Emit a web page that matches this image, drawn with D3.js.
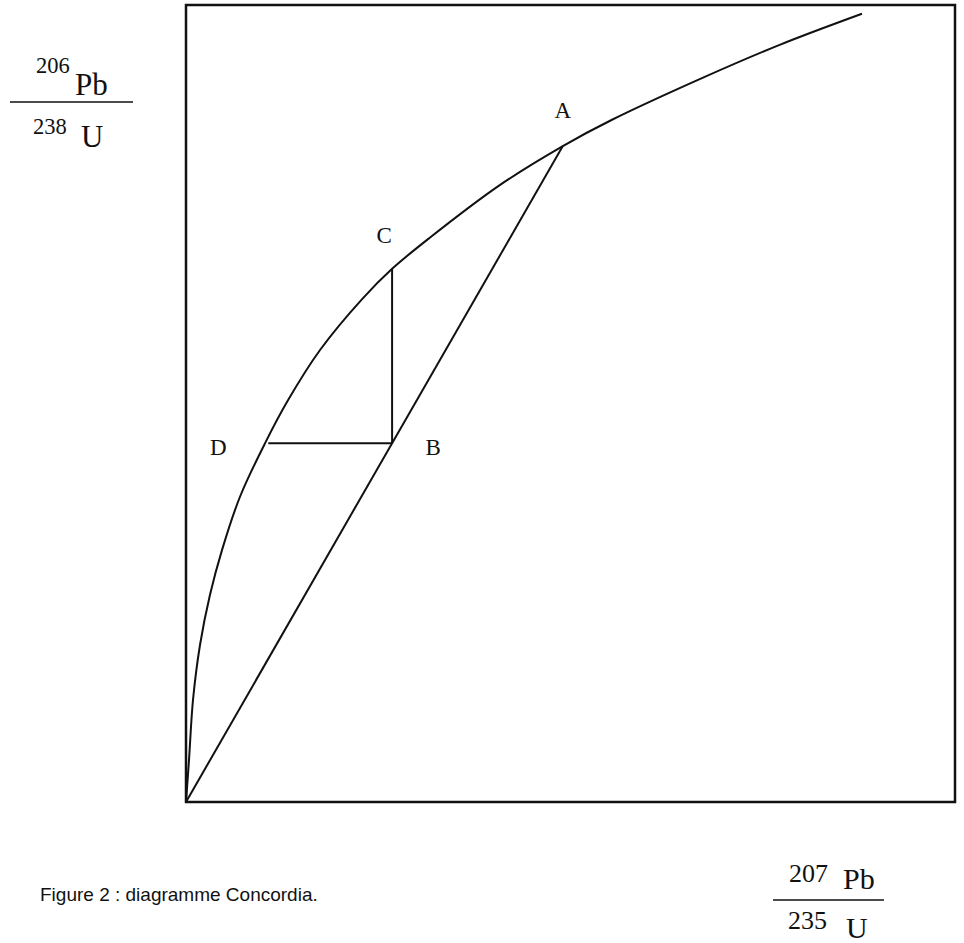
<!DOCTYPE html>
<html>
<head>
<meta charset="utf-8">
<script src="https://cdn.jsdelivr.net/npm/d3@7"></script>
<style>
  body { margin: 0; background: #fff; }
  .serif { font-family: "Liberation Serif", "DejaVu Serif", serif; fill: #111; }
  .caption { font-family: "Liberation Sans", Arial, sans-serif; font-size: 19px; fill: #111; }
</style>
</head>
<body>
<script>
var width = 964,
    height = 943;

/* ============================ DATA ============================ */
// concordia curve (arbitrary units 0-100)
var curveX = [0, 0.39, 0.91, 1.82, 3.12, 4.68, 7.02, 10.27, 13.26, 17.43, 22.9, 26.8, 31.7, 40.8, 49.0, 55.4, 66.8, 77.2, 87.9];
var curveY = [0, 5.27, 12.8, 19.7, 26.0, 31.6, 38.3, 45.0, 50.4, 56.71, 63.1, 66.9, 70.8, 77.4, 82.3, 85.6, 90.7, 95.0, 98.9];

var pointNames = ["A", "B", "C", "D"];
var pointX = [49.0, 26.8, 26.8, 10.7];
var pointY = [82.3, 45.0, 66.9, 45.0];

var caption = "Figure 2 : diagramme Concordia.";

/* ============================ SETUP ============================ */
var svg = d3.select('body').append('svg')
    .attr('width', width)
    .attr('height', height);

var x = d3.scaleLinear().domain([0, 100]).range([186, 955]);
var y = d3.scaleLinear().domain([0, 100]).range([802, 5]);

var pts = {};
pointNames.forEach(function(n, i) { pts[n] = [pointX[i], pointY[i]]; });

// frame
svg.append('rect')
    .attr('x', x(0))
    .attr('y', y(100))
    .attr('width', x(100) - x(0))
    .attr('height', y(0) - y(100))
    .attr('fill', 'none')
    .attr('stroke', '#111')
    .attr('stroke-width', 2.5);

/* ============================ CURVE + LINES ============================ */
var line = d3.line()
    .x(function(d) { return x(d[0]); })
    .y(function(d) { return y(d[1]); });

svg.append('path')
    .datum(d3.zip(curveX, curveY))
    .attr('d', line.curve(d3.curveCatmullRom.alpha(0.5)))
    .attr('fill', 'none')
    .attr('stroke', '#111')
    .attr('stroke-width', 2);

var segs = [
  [[0, 0], pts.A],
  [pts.C, pts.B],
  [pts.D, pts.B]
];

svg.selectAll('.seg')
    .data(segs)
  .enter().append('line')
    .attr('class', 'seg')
    .attr('x1', function(d) { return x(d[0][0]); })
    .attr('y1', function(d) { return y(d[0][1]); })
    .attr('x2', function(d) { return x(d[1][0]); })
    .attr('y2', function(d) { return y(d[1][1]); })
    .attr('stroke', '#111')
    .attr('stroke-width', 2);

// point labels, offset in pixels
var offs = { A: [0, -28], B: [41, 12], C: [-8, -26], D: [-50, 12] };

svg.selectAll('.lbl')
    .data(pointNames)
  .enter().append('text')
    .attr('class', 'lbl serif')
    .attr('x', function(d) { return x(pts[d][0]) + offs[d][0]; })
    .attr('y', function(d) { return y(pts[d][1]) + offs[d][1]; })
    .attr('text-anchor', 'middle')
    .style('font-size', '23px')
    .text(function(d) { return d; });

/* ============================ AXIS FRACTIONS ============================ */
function fraction(g, o) {
  g.append('text').attr('class', 'serif').attr('x', o.n1[0]).attr('y', o.n1[1])
      .style('font-size', o.small + 'px').text(o.n1[2]);
  g.append('text').attr('class', 'serif').attr('x', o.n2[0]).attr('y', o.n2[1])
      .style('font-size', o.big + 'px').text(o.n2[2]);
  g.append('line').attr('x1', o.bar[0]).attr('x2', o.bar[1])
      .attr('y1', o.bar[2]).attr('y2', o.bar[2])
      .attr('stroke', '#111').attr('stroke-width', 1.6);
  g.append('text').attr('class', 'serif').attr('x', o.d1[0]).attr('y', o.d1[1])
      .style('font-size', o.small + 'px').text(o.d1[2]);
  g.append('text').attr('class', 'serif').attr('x', o.d2[0]).attr('y', o.d2[1])
      .style('font-size', o.big + 'px').text(o.d2[2]);
}

fraction(svg.append('g'), {
  small: 22.5, big: 31,
  n1: [36, 73, '206'], n2: [75, 95, 'Pb'],
  bar: [10, 133, 102],
  d1: [33, 134, '238'], d2: [81, 147, 'U']
});

fraction(svg.append('g'), {
  small: 26, big: 30,
  n1: [789, 882, '207'], n2: [843, 889, 'Pb'],
  bar: [773, 884, 900],
  d1: [788, 929, '235'], d2: [846, 938, 'U']
});

/* ============================ CAPTION ============================ */
svg.append('text')
    .attr('class', 'caption')
    .attr('x', 40)
    .attr('y', 901)
    .text(caption);
</script>
</body>
</html>
